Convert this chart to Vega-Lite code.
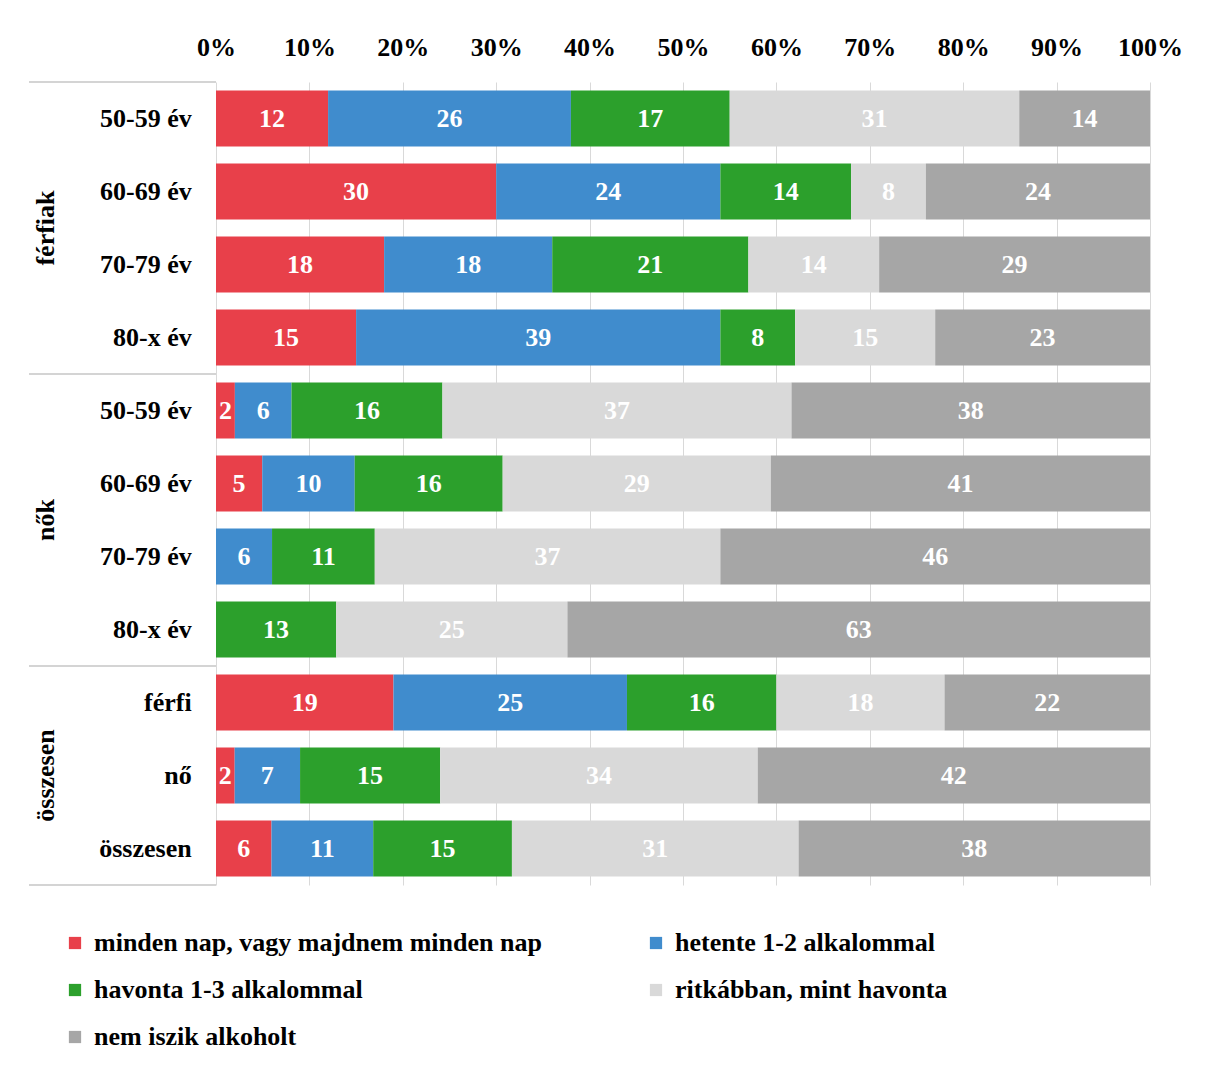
{
  "$schema": "https://vega.github.io/schema/vega-lite/v6.json",
  "background": "white",
  "padding": {"left": 28, "top": 34, "right": 20, "bottom": 10},
  "spacing": 0,
  "bounds": "flush",
  "config": {
    "view": {"stroke": null},
    "font": "Liberation Serif"
  },
  "datasets": {
    "rows": [
      {"row": "férfiak|50-59 év", "grp": "férfiak", "sub": "50-59 év", "minden nap, vagy majdnem minden nap": 12, "hetente 1-2 alkalommal": 26, "havonta 1-3 alkalommal": 17, "ritkábban, mint havonta": 31, "nem iszik alkoholt": 14},
      {"row": "férfiak|60-69 év", "grp": "férfiak", "sub": "60-69 év", "minden nap, vagy majdnem minden nap": 30, "hetente 1-2 alkalommal": 24, "havonta 1-3 alkalommal": 14, "ritkábban, mint havonta": 8, "nem iszik alkoholt": 24},
      {"row": "férfiak|70-79 év", "grp": "férfiak", "sub": "70-79 év", "minden nap, vagy majdnem minden nap": 18, "hetente 1-2 alkalommal": 18, "havonta 1-3 alkalommal": 21, "ritkábban, mint havonta": 14, "nem iszik alkoholt": 29},
      {"row": "férfiak|80-x év", "grp": "férfiak", "sub": "80-x év", "minden nap, vagy majdnem minden nap": 15, "hetente 1-2 alkalommal": 39, "havonta 1-3 alkalommal": 8, "ritkábban, mint havonta": 15, "nem iszik alkoholt": 23},
      {"row": "nők|50-59 év", "grp": "nők", "sub": "50-59 év", "minden nap, vagy majdnem minden nap": 2, "hetente 1-2 alkalommal": 6, "havonta 1-3 alkalommal": 16, "ritkábban, mint havonta": 37, "nem iszik alkoholt": 38},
      {"row": "nők|60-69 év", "grp": "nők", "sub": "60-69 év", "minden nap, vagy majdnem minden nap": 5, "hetente 1-2 alkalommal": 10, "havonta 1-3 alkalommal": 16, "ritkábban, mint havonta": 29, "nem iszik alkoholt": 41},
      {"row": "nők|70-79 év", "grp": "nők", "sub": "70-79 év", "minden nap, vagy majdnem minden nap": 0, "hetente 1-2 alkalommal": 6, "havonta 1-3 alkalommal": 11, "ritkábban, mint havonta": 37, "nem iszik alkoholt": 46},
      {"row": "nők|80-x év", "grp": "nők", "sub": "80-x év", "minden nap, vagy majdnem minden nap": 0, "hetente 1-2 alkalommal": 0, "havonta 1-3 alkalommal": 13, "ritkábban, mint havonta": 25, "nem iszik alkoholt": 63},
      {"row": "összesen|férfi", "grp": "összesen", "sub": "férfi", "minden nap, vagy majdnem minden nap": 19, "hetente 1-2 alkalommal": 25, "havonta 1-3 alkalommal": 16, "ritkábban, mint havonta": 18, "nem iszik alkoholt": 22},
      {"row": "összesen|nő", "grp": "összesen", "sub": "nő", "minden nap, vagy majdnem minden nap": 2, "hetente 1-2 alkalommal": 7, "havonta 1-3 alkalommal": 15, "ritkábban, mint havonta": 34, "nem iszik alkoholt": 42},
      {"row": "összesen|összesen", "grp": "összesen", "sub": "összesen", "minden nap, vagy majdnem minden nap": 6, "hetente 1-2 alkalommal": 11, "havonta 1-3 alkalommal": 15, "ritkábban, mint havonta": 31, "nem iszik alkoholt": 38}
    ]
  },
  "hconcat": [
    {
      "width": 187,
      "height": 803,
      "data": {"name": "rows"},
      "encoding": {
        "y": {"field": "row", "type": "nominal", "sort": null, "scale": {"paddingInner": 0, "paddingOuter": 0}, "axis": null}
      },
      "layer": [
        {
          "mark": {"type": "text", "align": "right", "baseline": "middle", "font": "Liberation Serif", "fontWeight": "bold", "fontSize": 26, "color": "#000000"},
          "encoding": {
            "x": {"datum": 0.87, "type": "quantitative", "scale": {"domain": [0, 1]}, "axis": null},
            "text": {"field": "sub"}
          }
        },
        {
          "transform": [{"filter": "datum.sub == '60-69 év'"}],
          "mark": {"type": "text", "align": "center", "baseline": "middle", "angle": 270, "font": "Liberation Serif", "fontWeight": "bold", "fontSize": 26, "color": "#000000"},
          "encoding": {
            "x": {"datum": 0.09, "type": "quantitative"},
            "y": {"field": "row", "type": "nominal", "sort": null, "bandPosition": 1},
            "text": {"field": "grp"}
          }
        },
        {
          "transform": [{"filter": "datum.sub == 'nő'"}],
          "mark": {"type": "text", "align": "center", "baseline": "middle", "angle": 270, "font": "Liberation Serif", "fontWeight": "bold", "fontSize": 26, "color": "#000000"},
          "encoding": {
            "x": {"datum": 0.09, "type": "quantitative"},
            "text": {"field": "grp"}
          }
        },
        {
          "transform": [{"filter": "datum.sub == '50-59 év' || datum.sub == 'férfi'"}],
          "mark": {"type": "rule", "color": "#D4D4D4", "strokeWidth": 2},
          "encoding": {
            "x": {"datum": 0, "type": "quantitative"},
            "x2": {"datum": 1},
            "y": {"field": "row", "type": "nominal", "sort": null, "bandPosition": 0}
          }
        },
        {
          "transform": [{"filter": "datum.row == 'összesen|összesen'"}],
          "mark": {"type": "rule", "color": "#D4D4D4", "strokeWidth": 2},
          "encoding": {
            "x": {"datum": 0, "type": "quantitative"},
            "x2": {"datum": 1},
            "y": {"field": "row", "type": "nominal", "sort": null, "bandPosition": 1}
          }
        }
      ]
    },
    {
      "width": 934,
      "height": 803,
      "data": {"name": "rows"},
      "transform": [
        {"fold": ["minden nap, vagy majdnem minden nap", "hetente 1-2 alkalommal", "havonta 1-3 alkalommal", "ritkábban, mint havonta", "nem iszik alkoholt"], "as": ["cat", "v"]},
        {"window": [{"op": "row_number", "as": "k"}], "groupby": ["row"]}
      ],
      "encoding": {
        "y": {"field": "row", "type": "nominal", "sort": null, "scale": {"paddingInner": 0.233, "paddingOuter": 0.1165}, "axis": null},
        "x": {
          "field": "v", "type": "quantitative", "stack": "normalize",
          "scale": {"domain": [0, 1]},
          "axis": {
            "orient": "top", "format": ".0%", "values": [0, 0.1, 0.2, 0.3, 0.4, 0.5, 0.6, 0.7, 0.8, 0.9, 1],
            "title": null, "domain": false, "ticks": false, "labelPadding": 22, "labelFlush": false,
            "labelFont": "Liberation Serif", "labelFontSize": 26, "labelFontWeight": "bold", "labelColor": "#000000",
            "grid": true, "gridColor": "#D9D9D9", "gridWidth": 1
          }
        },
        "order": {"field": "k", "type": "quantitative"},
        "color": {
          "field": "cat", "type": "nominal",
          "sort": ["minden nap, vagy majdnem minden nap", "hetente 1-2 alkalommal", "havonta 1-3 alkalommal", "ritkábban, mint havonta", "nem iszik alkoholt"],
          "scale": {
            "domain": ["minden nap, vagy majdnem minden nap", "hetente 1-2 alkalommal", "havonta 1-3 alkalommal", "ritkábban, mint havonta", "nem iszik alkoholt"],
            "range": ["#E8404A", "#408CCD", "#2CA02C", "#D9D9D9", "#A6A6A6"]
          },
          "legend": {
            "title": null, "orient": "none", "legendX": 33, "legendY": 848,
            "direction": "horizontal", "columns": 2, "columnPadding": 101, "rowPadding": 21,
            "symbolType": "square", "symbolSize": 150, "symbolStrokeWidth": 0, "symbolOffset": 0,
            "labelFont": "Liberation Serif", "labelFontSize": 26, "labelFontWeight": "bold", "labelColor": "#000000",
            "labelOffset": 6, "labelLimit": 700
          }
        }
      },
      "layer": [
        {"mark": {"type": "bar"}},
        {
          "transform": [{"filter": "datum.v > 0"}],
          "mark": {"type": "text", "align": "center", "baseline": "middle", "font": "Liberation Serif", "fontWeight": "bold", "fontSize": 26},
          "encoding": {
            "x": {"field": "v", "type": "quantitative", "stack": "normalize", "bandPosition": 0.5},
            "text": {"field": "v", "type": "quantitative"},
            "color": {"value": "white"}
          }
        }
      ]
    }
  ]
}
